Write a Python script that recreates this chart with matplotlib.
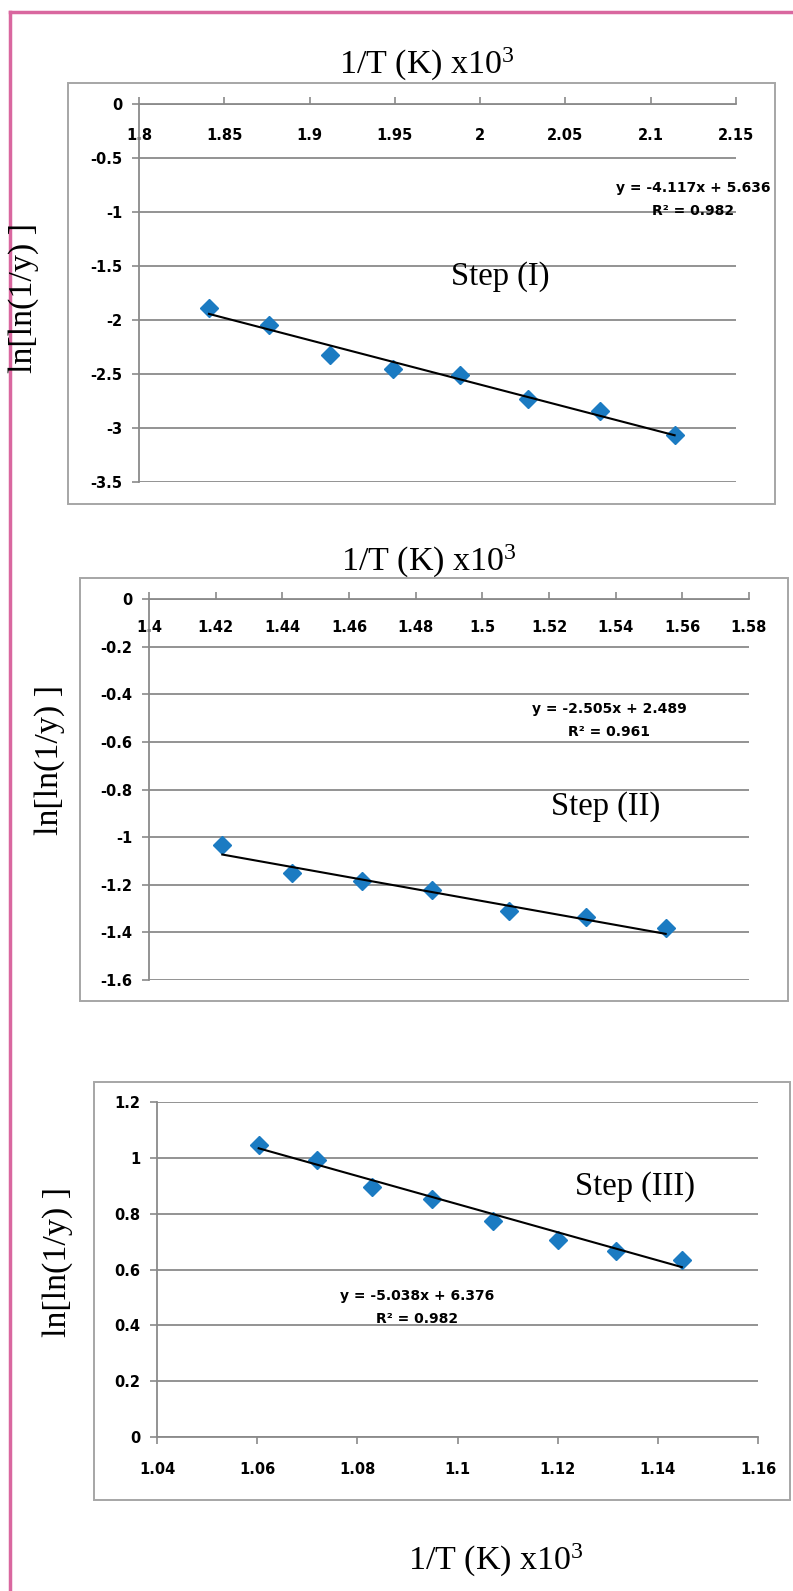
import matplotlib
matplotlib.use("Agg")
import matplotlib.pyplot as plt
from matplotlib.patches import Rectangle
from matplotlib.lines import Line2D
import numpy as np

# ---------------- data ----------------
x1 = [1.841, 1.876, 1.912, 1.949, 1.988, 2.028, 2.070, 2.114]
y1 = [-1.885, -2.045, -2.32, -2.45, -2.51, -2.736, -2.84, -3.064]
slope1, icpt1 = -4.117, 5.636
eq1 = "y = -4.117x + 5.636"
r1 = "R² = 0.982"

x2 = [1.422, 1.443, 1.464, 1.485, 1.508, 1.531, 1.555]
y2 = [-1.031, -1.15, -1.185, -1.222, -1.31, -1.336, -1.38]
slope2, icpt2 = -2.505, 2.489
eq2 = "y = -2.505x + 2.489"
r2 = "R² = 0.961"

x3 = [1.0603, 1.072, 1.083, 1.095, 1.107, 1.120, 1.1317, 1.1448]
y3 = [1.045, 0.993, 0.895, 0.854, 0.773, 0.707, 0.666, 0.635]
slope3, icpt3 = -5.038, 6.376
eq3 = "y = -5.038x + 6.376"
r3 = "R² = 0.982"

xt1 = [1.8, 1.85, 1.9, 1.95, 2.0, 2.05, 2.1, 2.15]
xl1 = ["1.8", "1.85", "1.9", "1.95", "2", "2.05", "2.1", "2.15"]
yt1 = [0, -0.5, -1, -1.5, -2, -2.5, -3, -3.5]
yl1 = ["0", "-0.5", "-1", "-1.5", "-2", "-2.5", "-3", "-3.5"]

xt2 = [1.4, 1.42, 1.44, 1.46, 1.48, 1.5, 1.52, 1.54, 1.56, 1.58]
xl2 = ["1.4", "1.42", "1.44", "1.46", "1.48", "1.5", "1.52", "1.54", "1.56", "1.58"]
yt2 = [0, -0.2, -0.4, -0.6, -0.8, -1.0, -1.2, -1.4, -1.6]
yl2 = ["0", "-0.2", "-0.4", "-0.6", "-0.8", "-1", "-1.2", "-1.4", "-1.6"]

xt3 = [1.04, 1.06, 1.08, 1.10, 1.12, 1.14, 1.16]
xl3 = ["1.04", "1.06", "1.08", "1.1", "1.12", "1.14", "1.16"]
yt3 = [0, 0.2, 0.4, 0.6, 0.8, 1.0, 1.2]
yl3 = ["0", "0.2", "0.4", "0.6", "0.8", "1", "1.2"]

xlabel = "1/T (K) x10$^{3}$"
ylabel = "ln[ln(1/y) ]"
steps = ["Step (I)", "Step (II)", "Step (III)"]

# ---------------- style ----------------
plt.rcParams['mathtext.fontset'] = 'custom'
plt.rcParams['mathtext.rm'] = 'Liberation Serif'
plt.rcParams['mathtext.it'] = 'Liberation Serif'
TICKFONT = ['DejaVu Sans']
SERIF = ['Liberation Serif', 'DejaVu Serif']
GRID = '#8a8a8a'
BOX = '#a6a6a6'
BLUE = '#1b7bc2'
PINK = '#d9679f'
TFS = 10.5   # tick font size
EFS = 10     # equation font size

W, H = 793, 1591
fig = plt.figure(figsize=(W / 100, H / 100), dpi=100)


def px_axes(L, T, R, B):
    return fig.add_axes([L / W, 1 - B / H, (R - L) / W, (B - T) / H])


def box(L, T, R, B):
    fig.patches.append(Rectangle((L / W, 1 - B / H), (R - L) / W, (B - T) / H,
                                 transform=fig.transFigure, fill=False,
                                 edgecolor=BOX, lw=1.4, zorder=0))


def style(ax, xt, xl, yt, yl, xlim, ylim, top_axis, xpad):
    ax.set_xlim(*xlim)
    ax.set_ylim(*ylim)
    ax.set_xticks(xt)
    ax.set_xticklabels(xl, family=TICKFONT, fontsize=TFS, fontweight='bold')
    ax.set_yticks(yt)
    ax.set_yticklabels(yl, family=TICKFONT, fontsize=TFS, fontweight='bold')
    ax.grid(axis='y', color=GRID, lw=1.3)
    ax.set_axisbelow(True)
    for s in ax.spines.values():
        s.set_visible(False)
    ax.spines['left'].set_visible(True)
    ax.spines['left'].set_color(GRID)
    ax.spines['left'].set_linewidth(1.3)
    if top_axis:
        ax.spines['top'].set_visible(True)
        ax.spines['top'].set_color(GRID)
        ax.spines['top'].set_linewidth(1.3)
        ax.tick_params(axis='x', top=True, bottom=False, labeltop=True,
                       labelbottom=False, direction='out', length=5,
                       color=GRID, width=1.2, pad=xpad)
    else:
        ax.spines['bottom'].set_visible(True)
        ax.spines['bottom'].set_color(GRID)
        ax.spines['bottom'].set_linewidth(1.3)
        ax.tick_params(axis='x', direction='out', length=5, color=GRID,
                       width=1.2, pad=xpad)
    ax.tick_params(axis='y', direction='out', length=5, color=GRID, width=1.2,
                   pad=7)
    ax.set_facecolor('none')


def plot_panel(ax, x, y, m, c):
    ax.plot(x, y, linestyle='none', marker='D', ms=9, color=BLUE,
            markeredgecolor=BLUE, zorder=3, clip_on=False)
    xf = np.array([x[0], x[-1]])
    ax.plot(xf, m * xf + c, color='black', lw=1.5, zorder=4)


# ---------- panel 1 ----------
box(68, 83, 775, 504)
ax1 = px_axes(139, 104, 736, 482)
style(ax1, xt1, xl1, yt1, yl1, (1.8, 2.15), (-3.5, 0), True, -33)
plot_panel(ax1, x1, y1, slope1, icpt1)
ax1.text(2.125, -0.778, eq1, ha='center', va='center', family=TICKFONT,
         fontsize=EFS, fontweight='bold')
ax1.text(2.125, -0.99, r1, ha='center', va='center', family=TICKFONT,
         fontsize=EFS, fontweight='bold')
ax1.text(2.012, -1.6, steps[0], ha='center', va='center', family=SERIF,
         fontsize=23.5)

# ---------- panel 2 ----------
box(80, 578, 788, 1001)
ax2 = px_axes(149, 599, 749, 980)
style(ax2, xt2, xl2, yt2, yl2, (1.4, 1.58), (-1.6, 0), True, -31)
plot_panel(ax2, x2, y2, slope2, icpt2)
ax2.text(1.538, -0.464, eq2, ha='center', va='center', family=TICKFONT,
         fontsize=EFS, fontweight='bold')
ax2.text(1.538, -0.559, r2, ha='center', va='center', family=TICKFONT,
         fontsize=EFS, fontweight='bold')
ax2.text(1.537, -0.87, steps[1], ha='center', va='center', family=SERIF,
         fontsize=23.5)

# ---------- panel 3 ----------
box(94, 1082, 790, 1500)
ax3 = px_axes(157, 1102, 758, 1437)
style(ax3, xt3, xl3, yt3, yl3, (1.04, 1.16), (0, 1.2), False, 13)
plot_panel(ax3, x3, y3, slope3, icpt3)
ax3.text(1.092, 0.504, eq3, ha='center', va='center', family=TICKFONT,
         fontsize=EFS, fontweight='bold')
ax3.text(1.092, 0.424, r3, ha='center', va='center', family=TICKFONT,
         fontsize=EFS, fontweight='bold')
ax3.text(1.1354, 0.896, steps[2], ha='center', va='center', family=SERIF,
         fontsize=23.5)

# ---------- figure text ----------
for (cx, cy) in [(427, 64), (429, 561), (496, 1560)]:
    fig.text(cx / W, 1 - cy / H, xlabel, ha='center', va='center',
             family=SERIF, fontsize=24.5)
for (cx, cy) in [(24, 298), (50, 760), (58, 1262)]:
    fig.text(cx / W, 1 - cy / H, ylabel, ha='center', va='center',
             rotation=90, family=SERIF, fontsize=24.5)

# pink frame (left and top edges)
fig.add_artist(Line2D([10 / W, 10 / W], [0, 1 - 12 / H], transform=fig.transFigure,
                      color=PINK, lw=2.5))
fig.add_artist(Line2D([10 / W, 1], [1 - 12 / H, 1 - 12 / H], transform=fig.transFigure,
                      color=PINK, lw=2.5))

fig.savefig("out.png", dpi=100)
